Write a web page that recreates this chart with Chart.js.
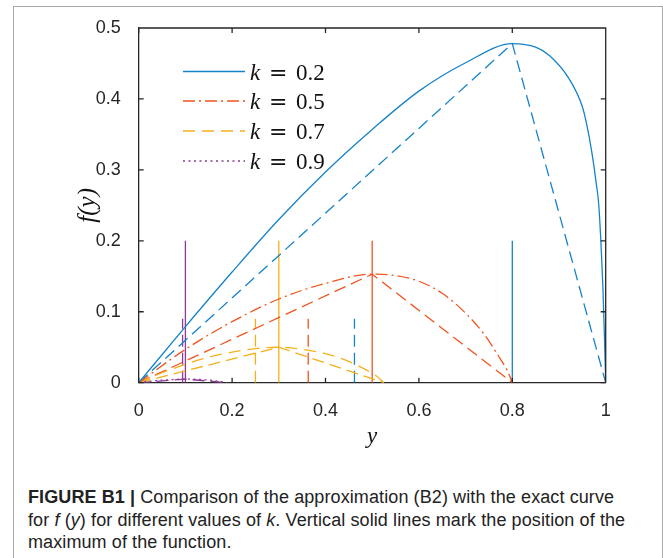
<!DOCTYPE html>
<html>
<head>
<meta charset="utf-8">
<script src="https://cdn.jsdelivr.net/npm/chart.js@4.4.1/dist/chart.umd.min.js"></script>
<style>
  html, body { margin: 0; padding: 0; background: #fff; }
  body { width: 663px; height: 558px; position: relative; overflow: hidden; }
  #frame { position: absolute; left: 13px; top: 6px; width: 650px; height: 620px; border: 1.5px solid #a8a8a8; box-sizing: border-box; }
  #wrap { position: absolute; left: 0; top: 0; width: 663px; height: 460px; }
  #caption { position: absolute; left: 28px; top: 486px; font-family: 'Liberation Sans', Arial, sans-serif; font-size: 18px; line-height: 22.5px; color: #222; letter-spacing: 0.1px; white-space: nowrap; }
</style>
</head>
<body>
<div id="frame"></div>
<div id="wrap"><canvas id="grafico"></canvas></div>
<div id="caption"><b>FIGURE B1 |</b> Comparison of the approximation (B2) with the exact curve<br>for <i>f</i> (<i>y</i>) for different values of <i>k</i>. Vertical solid lines mark the position of the<br>maximum of the function.</div>
<script>
// eixos
const xTickValues = [0, 0.2, 0.4, 0.6, 0.8, 1];
const xTickLabels = ['0', '0.2', '0.4', '0.6', '0.8', '1'];
const yTickValues = [0, 0.1, 0.2, 0.3, 0.4, 0.5];
const yTickLabels = ['0', '0.1', '0.2', '0.3', '0.4', '0.5'];

// curvas exatas f(y)
const kLabels = ['0.2', '0.5', '0.7', '0.9'];
const k02Y = [0, 0.1, 0.2, 0.3, 0.4, 0.5, 0.6, 0.7, 0.8, 0.85, 0.88, 0.92, 0.95, 0.96, 0.97, 0.98, 0.985, 0.99, 0.994, 0.997, 1];
const k02F = [0, 0.079, 0.156, 0.230, 0.297, 0.357, 0.411, 0.451, 0.478, 0.473, 0.461, 0.430, 0.389, 0.362, 0.326, 0.280, 0.252, 0.195, 0.135, 0.072, 0];
const k05Y = [0, 0.1, 0.2, 0.3, 0.4, 0.5, 0.55, 0.6, 0.65, 0.7, 0.74, 0.77, 0.79, 0.8];
const k05F = [0, 0.047, 0.086, 0.118, 0.140, 0.153, 0.151, 0.143, 0.126, 0.098, 0.068, 0.038, 0.016, 0];
const k07Y = [0, 0.05, 0.1, 0.15, 0.2, 0.25, 0.3, 0.35, 0.4, 0.43, 0.46, 0.49, 0.51, 0.525];
const k07F = [0, 0.014, 0.026, 0.036, 0.043, 0.048, 0.050, 0.047, 0.041, 0.035, 0.027, 0.017, 0.009, 0];
const k09Y = [0, 0.03, 0.06, 0.1, 0.13, 0.16, 0.19];
const k09F = [0, 0.0025, 0.004, 0.005, 0.0045, 0.003, 0];

// aproximacao triangular (B2)
const k02ApproxY = [0, 0.8, 1];
const k02ApproxF = [0, 0.478, 0];
const k05ApproxY = [0, 0.5, 0.8];
const k05ApproxF = [0, 0.153, 0];
const k07ApproxY = [0, 0.3, 0.525];
const k07ApproxF = [0, 0.050, 0];
const k09ApproxY = [0, 0.1, 0.19];
const k09ApproxF = [0, 0.005, 0];

// linhas verticais
const maxPosY = [0.8, 0.5, 0.3, 0.1];
const maxLineTop = 0.2;
const dashPosY = [0.462, 0.363, 0.25, 0.094];
const dashLineTop = 0.09;

const cores = ['#1683C9', '#F0541F', '#F2B11C', '#8C3A98'];
const estilos = [[], [12, 4, 2, 4], [12, 7], [2, 3.5]];
const axisColor = '#262626';

function pts(xs, ys) {
  return xs.map((x, i) => ({ x: x, y: ys[i] }));
}

function linha(data, cor, dash, extra) {
  return Object.assign({
    data: data,
    borderColor: cor,
    borderWidth: 1.3,
    borderDash: dash,
    pointRadius: 0,
    fill: false,
    tension: 0
  }, extra || {});
}

const exatas = [pts(k02Y, k02F), pts(k05Y, k05F), pts(k07Y, k07F), pts(k09Y, k09F)];
const aprox = [pts(k02ApproxY, k02ApproxF), pts(k05ApproxY, k05ApproxF), pts(k07ApproxY, k07ApproxF), pts(k09ApproxY, k09ApproxF)];

const datasets = [];
exatas.forEach((d, i) => {
  datasets.push(linha(d, cores[i], estilos[i], { label: 'k = ' + kLabels[i], cubicInterpolationMode: 'monotone' }));
});
aprox.forEach((d, i) => {
  datasets.push(linha(d, cores[i], [12, 6], { label: 'aprox ' + kLabels[i] }));
});
maxPosY.forEach((v, i) => {
  datasets.push(linha([{ x: v, y: 0 }, { x: v, y: maxLineTop }], cores[i], [], { label: 'max ' + kLabels[i] }));
});
dashPosY.forEach((v, i) => {
  datasets.push(linha([{ x: v, y: 0 }, { x: v, y: dashLineTop }], cores[i], [12, 6], { label: 'ref ' + kLabels[i] }));
});

// caixa, ticks internos e legenda
const caixa = {
  id: 'caixa',
  afterDatasetsDraw(chart) {
    const { ctx, chartArea: a, scales } = chart;
    ctx.save();
    ctx.strokeStyle = axisColor;
    ctx.lineWidth = 1.3;
    ctx.setLineDash([]);
    ctx.beginPath();
    ctx.moveTo(a.left, a.top); ctx.lineTo(a.right, a.top); ctx.lineTo(a.right, a.bottom);
    xTickValues.forEach(v => {
      const px = scales.x.getPixelForValue(v);
      ctx.moveTo(px, a.bottom); ctx.lineTo(px, a.bottom - 5);
      ctx.moveTo(px, a.top); ctx.lineTo(px, a.top + 5);
    });
    yTickValues.forEach(v => {
      const py = scales.y.getPixelForValue(v);
      ctx.moveTo(a.left, py); ctx.lineTo(a.left + 5, py);
      ctx.moveTo(a.right, py); ctx.lineTo(a.right - 5, py);
    });
    ctx.stroke();

    // legenda
    const rows = [71.5, 101, 131, 161];
    kLabels.forEach((lab, i) => {
      const ds = chart.data.datasets[i];
      ctx.strokeStyle = ds.borderColor;
      ctx.lineWidth = 1.3;
      ctx.setLineDash(ds.borderDash);
      ctx.beginPath();
      ctx.moveTo(183, rows[i]);
      ctx.lineTo(245, rows[i]);
      ctx.stroke();
      ctx.setLineDash([]);
      ctx.fillStyle = '#111';
      ctx.textBaseline = 'alphabetic';
      ctx.font = 'italic 23px "Liberation Serif"';
      ctx.fillText('k', 250, rows[i] + 8);
      ctx.font = '22px "DejaVu Serif"';
      ctx.fillText('=', 269, rows[i] + 8);
      ctx.font = '23px "Liberation Serif"';
      ctx.fillText(lab, 296, rows[i] + 8);
    });
    ctx.restore();
  }
};

const tickFont = { family: 'Liberation Sans', size: 18 };

new Chart(document.getElementById('grafico'), {
  type: 'line',
  data: { datasets: datasets },
  options: {
    responsive: true,
    maintainAspectRatio: false,
    animation: false,
    layout: { padding: { left: 0, top: 28, right: 57.3, bottom: 7.3 } },
    plugins: { legend: { display: false }, tooltip: { enabled: false } },
    scales: {
      x: {
        type: 'linear',
        min: 0,
        max: 1,
        afterBuildTicks: s => { s.ticks = xTickValues.map(v => ({ value: v })); },
        afterFit: s => { s.height = 70; },
        ticks: { callback: (v, i) => xTickLabels[i], padding: 10, font: tickFont, color: axisColor, maxRotation: 0, autoSkip: false },
        grid: { display: false },
        border: { display: true, color: axisColor, width: 1.3 },
        title: { display: true, text: 'y', color: '#111', font: { family: 'Liberation Serif', style: 'italic', size: 23 }, padding: { top: 0, bottom: 2 } }
      },
      y: {
        min: 0,
        max: 0.5,
        afterBuildTicks: s => { s.ticks = yTickValues.map(v => ({ value: v })); },
        afterFit: s => { s.width = 138.7; },
        ticks: { callback: (v, i) => yTickLabels[i], padding: 10, font: tickFont, color: axisColor, autoSkip: false },
        grid: { display: false },
        border: { display: true, color: axisColor, width: 1.3 },
        title: { display: true, text: 'f(y)', color: '#111', font: { family: 'Liberation Serif', style: 'italic', size: 25 }, padding: { top: 73, bottom: 0 } }
      }
    }
  },
  plugins: [caixa]
});
</script>
</body>
</html>
